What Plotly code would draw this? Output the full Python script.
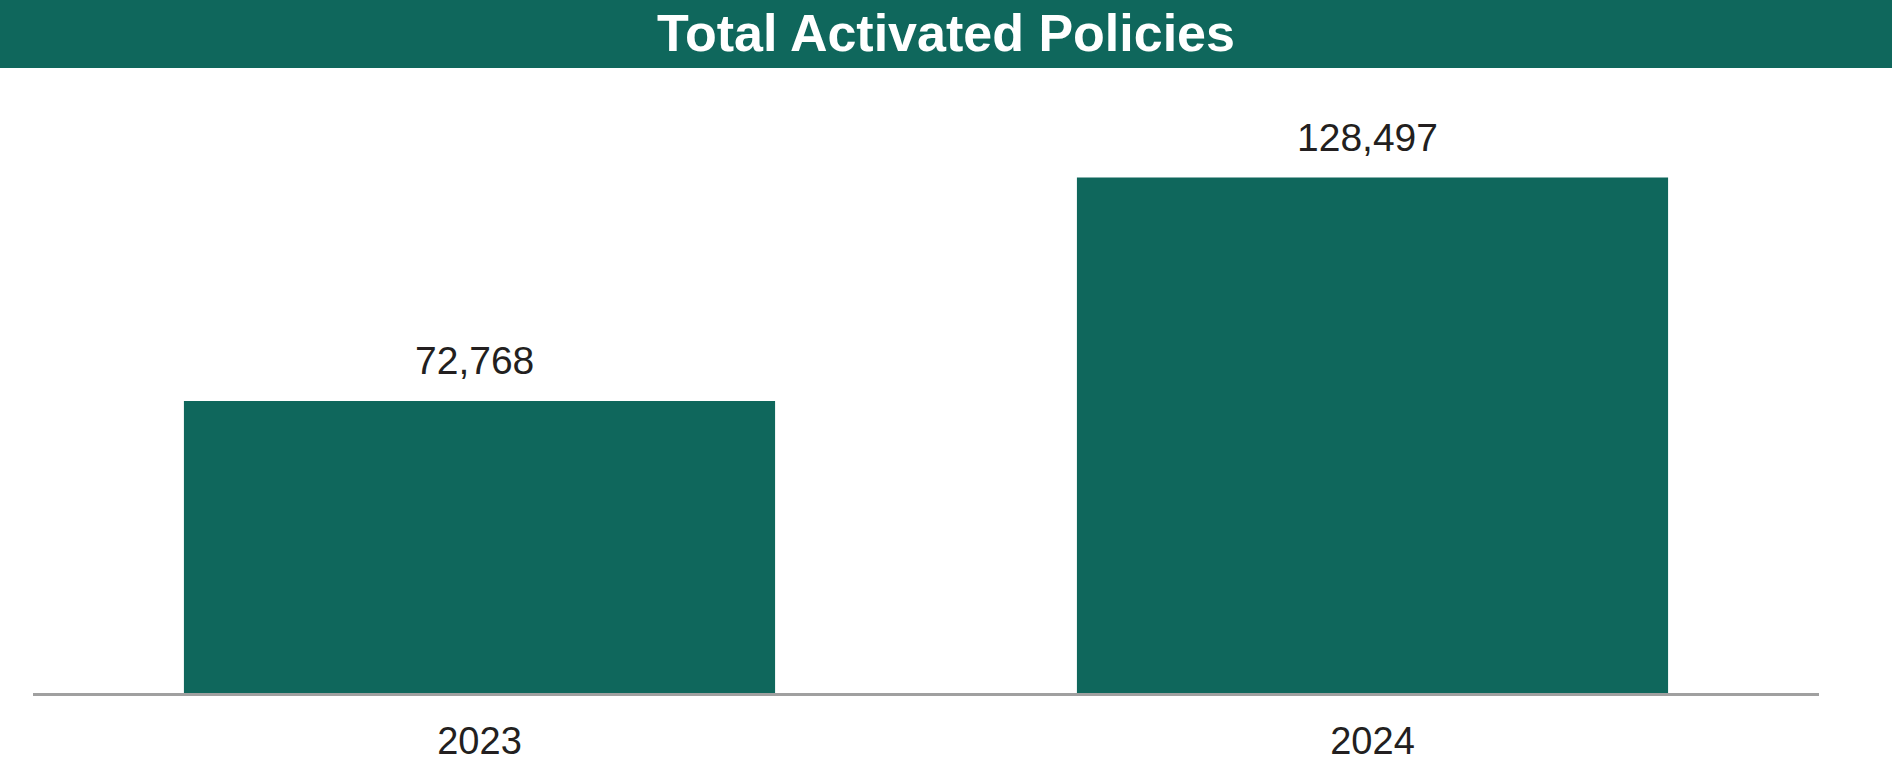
import plotly.graph_objects as go

years = ["2023", "2024"]
policies = [72768, 128497]
title_text = "Total Activated Policies"

GREEN = "#0f675c"
TEXT = "#231f20"
FONT = "Liberation Sans, Arial, Helvetica, sans-serif"

W, H = 1892, 771
ML, MR, MT, MB = 32.5, 73, 68, 78.4
plot_h = H - MT - MB
ymax = plot_h / 0.004009

fig = go.Figure(
    go.Bar(
        x=years,
        y=policies,
        marker=dict(color=GREEN, line=dict(width=0)),
        hoverinfo="skip",
    )
)

for i, v in enumerate(policies):
    fig.add_annotation(
        x=i, y=v, xref="x", yref="y",
        text=f"{v:,}", showarrow=False,
        yanchor="bottom", yshift=17, xshift=-5,
        font=dict(family=FONT, size=39, color=TEXT),
    )

fig.add_shape(
    type="rect", xref="paper", yref="paper",
    x0=-0.1, x1=1.2, y0=1.0, y1=1.3,
    fillcolor=GREEN, line=dict(width=0), layer="above",
)

fig.update_layout(
    width=W, height=H,
    margin=dict(l=ML, r=MR, t=MT, b=MB, autoexpand=False),
    paper_bgcolor="white", plot_bgcolor="white",
    bargap=0.338,
    showlegend=False,
    title=dict(
        text=f"<b>{title_text}</b>",
        x=0.5, xref="container", xanchor="center",
        y=1 - 33 / H, yref="container", yanchor="middle",
        font=dict(family=FONT, size=52, color="white"),
    ),
    xaxis=dict(
        type="category", showgrid=False, zeroline=False, automargin=False,
        showline=True, linecolor="#a0a0a0", linewidth=3,
        ticks="", ticklabelstandoff=12,
        tickfont=dict(family=FONT, size=38, color=TEXT),
    ),
    yaxis=dict(visible=False, range=[0, ymax], showgrid=False,
               zeroline=False, automargin=False),
)

fig.write_html(
    "out.html",
    config={"displayModeBar": False},
    post_script="document.body.style.margin='0';document.body.style.overflow='hidden';",
)
